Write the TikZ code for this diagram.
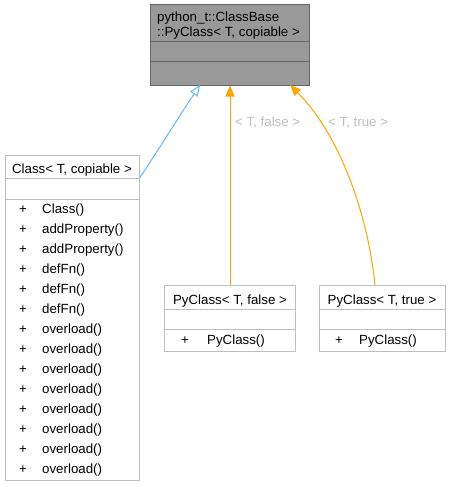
\documentclass[tikz,border=0pt]{standalone}
\usepackage{fontspec}
\setmainfont{Liberation Sans}
\usetikzlibrary{arrows.meta}
\definecolor{boxgrey}{HTML}{BFBFBF}
\definecolor{basegrey}{HTML}{666666}
\definecolor{basefill}{HTML}{999999}
\definecolor{edgeblue}{HTML}{63B8FF}
\definecolor{edgeorange}{HTML}{FFA500}
\definecolor{labelgrey}{HTML}{BEBEBE}
\tikzset{
  classbox/.style={draw=boxgrey, fill=white, line width=1pt, inner sep=0pt, rectangle},
  basebox/.style={draw=basegrey, fill=basefill, line width=1pt, inner sep=0pt, rectangle},
  divider/.style={draw=boxgrey, line width=1pt},
  basedivider/.style={draw=basegrey, line width=1pt},
  txt/.style={inner sep=0pt, anchor=base west},
  ctxt/.style={inner sep=0pt, anchor=base},
  lbl/.style={inner sep=0pt, anchor=base west, text=labelgrey},
  inherit/.style={color=edgeblue, line width=1pt, -{Triangle[open, length=11pt, width=9pt]}},
  templ/.style={color=edgeorange, line width=1pt, -{Triangle[length=11pt, width=9pt]}},
}
\begin{document}
\begin{tikzpicture}[x=1pt, y=-1pt, font=\fontsize{13.3}{16}\selectfont]
\useasboundingbox (0,0) rectangle (450,487);

% base class
\node[basebox, minimum width=159pt, minimum height=80pt] (base) at (229.5,45) {};
\draw[basedivider] (base.west |- 0,42) -- (base.east |- 0,42);
\draw[basedivider] (base.west |- 0,62) -- (base.east |- 0,62);
\node[txt] (b1) at (157,22) {python\_t::ClassBase};
\node[txt] (b2) at (157,37) {::PyClass< T, copiable >};

% Class box
\node[classbox, minimum width=134pt, minimum height=325pt] (cls) at (72,317.5) {};
\draw[divider] (cls.west |- 0,178) -- (cls.east |- 0,178);
\draw[divider] (cls.west |- 0,199) -- (cls.east |- 0,199);
\node[ctxt] (clst) at (72,173) {Class< T, copiable >};
\foreach \n [count=\i from 0] in {Class(),addProperty(),addProperty(),defFn(),defFn(),defFn(),overload(),overload(),overload(),overload(),overload(),overload(),overload(),overload()}{
  \node[ctxt] (cp\i) at (23,{213+20*\i}) {+};
  \node[txt] (cm\i) at (42,{213+20*\i}) {\n};
}

% PyClass false
\node[classbox, minimum width=131pt, minimum height=66pt] (pf) at (230,318) {};
\draw[divider] (pf.west |- 0,309) -- (pf.east |- 0,309);
\draw[divider] (pf.west |- 0,329) -- (pf.east |- 0,329);
\node[ctxt] (pft) at (230,304) {PyClass< T, false >};
\node[ctxt] (pfp) at (185,344) {+};
\node[txt] (pfm) at (207,344) {PyClass()};

% PyClass true
\node[classbox, minimum width=126pt, minimum height=66pt] (pt) at (382,318) {};
\draw[divider] (pt.west |- 0,309) -- (pt.east |- 0,309);
\draw[divider] (pt.west |- 0,329) -- (pt.east |- 0,329);
\node[ctxt] (ptt) at (382,304) {PyClass< T, true >};
\node[ctxt] (ptp) at (339,344) {+};
\node[txt] (ptm) at (359,344) {PyClass()};

% connectors
\coordinate (clsend) at (cls.east |- 0,178);
\coordinate (baseblue) at (200,85);
\coordinate (basefalse) at (pf.north |- base.south);
\coordinate (basetrue) at (290,85);
\coordinate (ptstart) at (375,285);
\draw[inherit] (clsend) .. controls (150,163) and (180,115) .. (baseblue);
\draw[templ] (pf.north) -- (basefalse);
\draw[templ] (ptstart) .. controls (368,215) and (340,135) .. (basetrue);
\node[lbl] (lf) at (235,126) {< T, false >};
\node[lbl] (lt) at (328,126) {< T, true >};
\end{tikzpicture}
\end{document}
